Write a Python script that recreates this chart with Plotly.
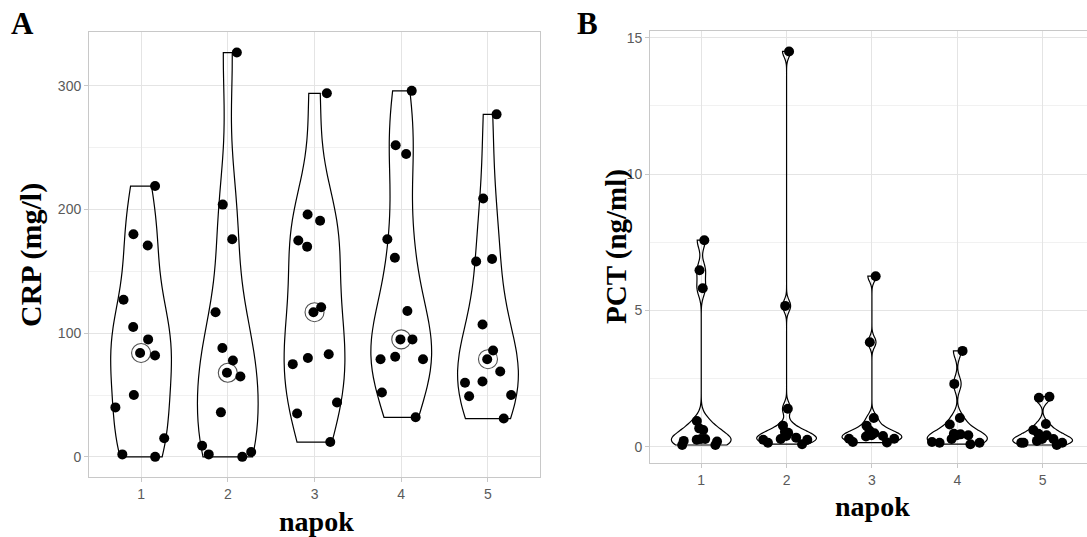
import numpy as np
import plotly.graph_objects as go

# ---------------- data ----------------
days = [1, 2, 3, 4, 5]
day_labels = ["1", "2", "3", "4", "5"]

crp_day1 = [219, 180, 171, 127, 105, 95, 82, 84, 50, 40, 15, 2, 0]
crp_day2 = [327, 204, 176, 117, 88, 78, 68, 65, 36, 9, 2, 4, 0]
crp_day3 = [294, 196, 191, 175, 170, 121, 117, 83, 80, 75, 44, 35, 12]
crp_day4 = [296, 252, 245, 176, 161, 118, 95, 95, 79, 81, 79, 52, 32]
crp_day5 = [277, 209, 158, 160, 107, 86, 79, 69, 61, 60, 49, 50, 31]

pct_day1 = [7.58, 6.48, 5.82, 0.95, 0.62, 0.68, 0.22, 0.07, 0.29, 0.07, 0.26, 0.20, 0.29]
pct_day2 = [14.5, 5.17, 1.40, 0.78, 0.52, 0.55, 0.26, 0.15, 0.34, 0.10, 0.29, 0.26, 0.40]
pct_day3 = [6.26, 3.84, 1.06, 0.78, 0.60, 0.50, 0.30, 0.40, 0.18, 0.16, 0.38, 0.30, 0.43]
pct_day4 = [3.52, 2.31, 1.06, 0.82, 0.43, 0.48, 0.46, 0.18, 0.15, 0.10, 0.29, 0.15, 0.43]
pct_day5 = [1.84, 1.80, 0.84, 0.62, 0.48, 0.43, 0.15, 0.15, 0.29, 0.07, 0.22, 0.15, 0.29]

crp_ticks = [0, 100, 200, 300]
pct_ticks = [0, 5, 10, 15]

crp_groups = [crp_day1, crp_day2, crp_day3, crp_day4, crp_day5]
pct_groups = [pct_day1, pct_day2, pct_day3, pct_day4, pct_day5]


def nrd0(v):
    """R's default bandwidth (bw.nrd0), as used by ggplot2's geom_violin."""
    v = np.asarray(v, dtype=float)
    sd = v.std(ddof=1)
    q75, q25 = np.percentile(v, [75, 25])
    lo = min(sd, (q75 - q25) / 1.34)
    if lo == 0:
        lo = sd if sd > 0 else 1.0
    return 0.9 * lo * len(v) ** -0.2


fig = go.Figure()


def add_violins(groups, xa, ya):
    for d, vals in zip(days, groups):
        fig.add_trace(go.Violin(
            x=[d] * len(vals), y=vals,
            xaxis=xa, yaxis=ya,
            width=0.7, scalemode="width", spanmode="hard",
            bandwidth=nrd0(vals),
            points="all", pointpos=0, jitter=1.0,
            marker=dict(color="black", size=10, line=dict(width=0)),
            line=dict(color="black", width=1.2),
            fillcolor="rgba(255,255,255,0)",
            box_visible=False, meanline_visible=False,
            hoverinfo="y", showlegend=False,
        ))


add_violins(crp_groups, "x", "y")
add_violins(pct_groups, "x2", "y2")

# median markers (white circles) for panel A, drawn under the points
shapes = []
for d, vals in zip(days, crp_groups):
    med = float(np.median(vals))
    shapes.append(dict(
        type="circle", xref="x", yref="y",
        xsizemode="pixel", ysizemode="pixel",
        xanchor=d, yanchor=med,
        x0=-9.5, x1=9.5, y0=-9.5, y1=9.5,
        fillcolor="white", line=dict(color="#505050", width=1.1),
        layer="between",
    ))

grid_major = "#e4e4e4"
grid_minor = "#f1f1f1"
frame = "#c8c8c8"
tickfont = dict(family="Liberation Sans, Arial, sans-serif", size=14, color="#5a5a5a")

common = dict(
    showline=True, mirror=True, linecolor=frame, linewidth=1,
    showgrid=True, gridcolor=grid_major, gridwidth=1,
    ticks="outside", ticklen=4, tickcolor=frame, tickwidth=1,
    tickfont=tickfont, zeroline=False,
)

fig.update_layout(
    width=1087, height=537,
    margin=dict(l=0, r=0, t=0, b=0),
    paper_bgcolor="white", plot_bgcolor="white",
    showlegend=False, violinmode="overlay",
    shapes=shapes,
    xaxis=dict(domain=[0.0819, 0.4968], range=[0.4, 5.6], anchor="y",
               tickmode="array", tickvals=days, ticktext=day_labels, **common),
    yaxis=dict(domain=[0.1117, 0.9404], range=[-16.3, 343.6], anchor="x",
               tickmode="array", tickvals=crp_ticks,
               minor=dict(dtick=50, tick0=0, showgrid=True, gridcolor=grid_minor, ticks=""),
               **common),
    xaxis2=dict(domain=[0.598, 1.0], range=[0.4, 5.52], anchor="y2",
                tickmode="array", tickvals=days, ticktext=day_labels, **common),
    yaxis2=dict(domain=[0.1378, 0.9423], range=[-0.59, 15.25], anchor="x2",
                tickmode="array", tickvals=pct_ticks,
                minor=dict(dtick=2.5, tick0=0, showgrid=True, gridcolor=grid_minor, ticks=""),
                **common),
)

serif = "Liberation Serif, Times New Roman, serif"
W, H = 1087, 537


def ann(text, px, py, size, angle=0):
    return dict(text=f"<b>{text}</b>", x=px / W, y=1 - py / H, xref="paper", yref="paper",
                xanchor="center", yanchor="middle", showarrow=False, textangle=angle,
                font=dict(family=serif, size=size, color="black"))


fig.update_layout(annotations=[
    ann("A", 22, 23, 31),
    ann("B", 587, 23, 31),
    ann("CRP (mg/l)", 31, 255, 30, -90),
    ann("PCT (ng/ml)", 616, 247, 29, -90),
    ann("napok", 316, 521, 28),
    ann("napok", 872, 506, 28),
])

fig.write_html("out.html", config={"displayModeBar": False},
               post_script="document.body.style.margin='0px';")
